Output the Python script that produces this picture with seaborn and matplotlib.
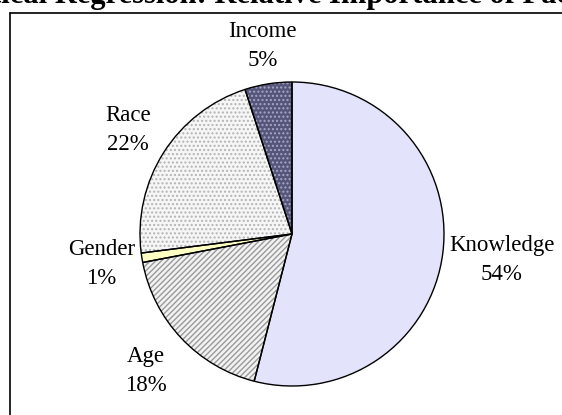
import matplotlib
matplotlib.use("Agg")
import matplotlib.pyplot as plt
import seaborn as sns
import numpy as np

# ---- data ----
categories = ["Knowledge", "Age", "Gender", "Race", "Income"]
values = [54, 18, 1, 22, 5]
pct_labels = ["54%", "18%", "1%", "22%", "5%"]
title_text = "Logistical Regression: Relative Importance of Factors"

# ---- styles ----
face_colors = ["#E3E3FB", "#F2F2F2", "#FFFFC4", "#F6F6F6", "#55557A"]
hatch_colors = ["#D4D4EE", "#9A9A9A", "#FFFFC4", "#B4B4B4", "#A6A6C6"]
hatches = ["", "//////", "", "....", "...."]
label_dist = [1.39, 1.32, 1.27, 1.28, 1.25]

sns.set_style("white")
plt.rcParams["font.family"] = ["Liberation Serif", "DejaVu Serif"]

W, H = 562, 415
fig = plt.figure(figsize=(W / 100, H / 100), dpi=100)
ax = fig.add_axes([0, 0, 1, 1])

cx, cy, R = 292, H - 234, 152

# base fill
wedges, _ = ax.pie(values, startangle=90, counterclock=False, center=(cx, cy),
                   radius=R, colors=face_colors, frame=True,
                   wedgeprops=dict(linewidth=0))
# hatch overlay
hw, _ = ax.pie(values, startangle=90, counterclock=False, center=(cx, cy),
               radius=R, colors=["none"] * len(values), frame=True,
               wedgeprops=dict(linewidth=0))
for w, hc, h in zip(hw, hatch_colors, hatches):
    w.set_facecolor("none")
    w.set_edgecolor(hc)
    w.set_hatch(h)
# outlines
ow, _ = ax.pie(values, startangle=90, counterclock=False, center=(cx, cy),
               radius=R, colors=["none"] * len(values), frame=True,
               wedgeprops=dict(linewidth=1.0, edgecolor="black", fill=False))

ax.set_xlim(0, W)
ax.set_ylim(0, H)
ax.set_aspect("equal")
ax.set_axis_off()

for w, cat, pl, d in zip(wedges, categories, pct_labels, label_dist):
    ang = np.deg2rad((w.theta1 + w.theta2) / 2)
    x = cx + d * R * np.cos(ang)
    y = cy + d * R * np.sin(ang)
    ax.text(x, y, f"{cat}\n{pl}", ha="center", va="center",
            fontsize=16.5, linespacing=1.5, color="black")

# frame
ax.plot([10, 10], [-20, H - 13], color="black", lw=1.2, clip_on=False)
ax.plot([10, W + 20], [H - 13, H - 13], color="black", lw=1.2, clip_on=False)

# clipped title (cut off at the top edge, as in the reference)
ax.text(-80, H - 3, title_text, ha="left", va="baseline", fontsize=22,
        fontweight="bold", color="black", clip_on=False)

fig.savefig("out.png", dpi=100)
